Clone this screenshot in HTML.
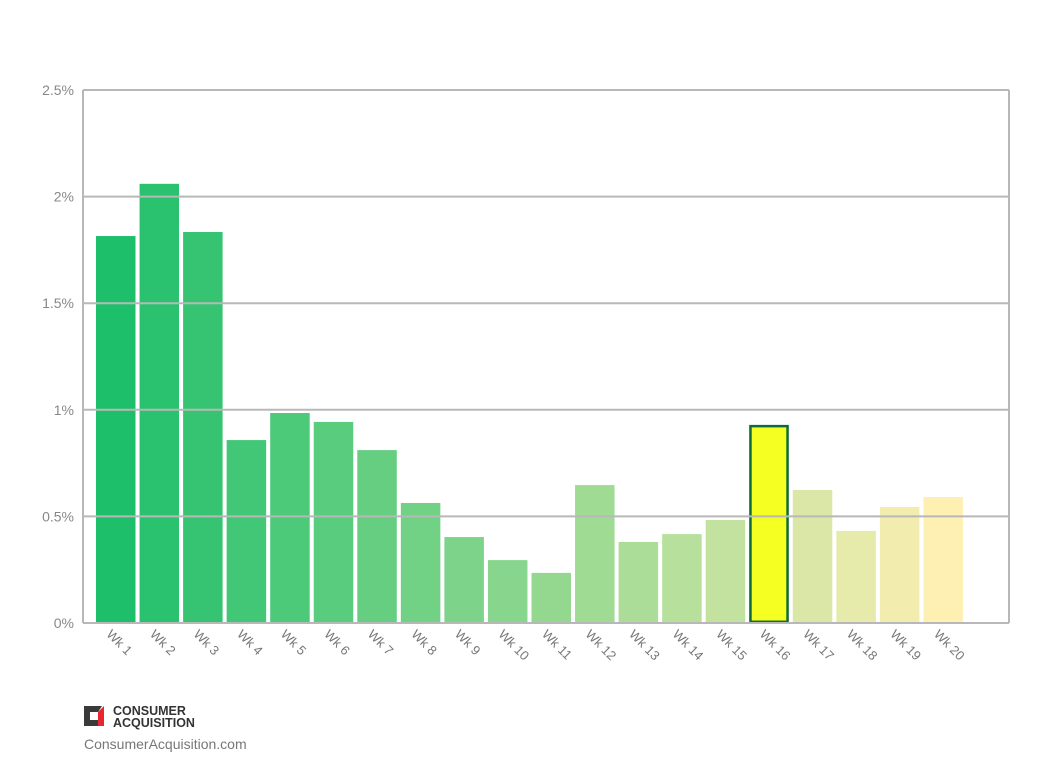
<!DOCTYPE html>
<html><head><meta charset="utf-8"><style>
body{margin:0;background:#fff;font-family:"Liberation Sans",sans-serif}
</style></head><body>
<svg id="chart" width="1044" height="764" xmlns="http://www.w3.org/2000/svg">
<g id="bars"></g>
<g id="grid"></g>
<g id="ylab"></g>
<g id="xlab"></g>
<g>
<path d="M84 706 h18 l-4 6 h-8 v8 h8 l4 6 h-18 z" fill="#3a3a3a"/>
<path d="M98 712 l6 -6 v20 h-6 z" fill="#e8262d"/>
<text x="113" y="715" font-size="12.5" font-weight="bold" fill="#333">CONSUMER</text>
<text x="113" y="727" font-size="12.5" font-weight="bold" fill="#333">ACQUISITION</text>
<text x="84" y="749" font-size="14" fill="#777">ConsumerAcquisition.com</text>
</g>
</svg>
<script>
const categories=["Wk 1","Wk 2","Wk 3","Wk 4","Wk 5","Wk 6","Wk 7","Wk 8","Wk 9","Wk 10","Wk 11","Wk 12","Wk 13","Wk 14","Wk 15","Wk 16","Wk 17","Wk 18","Wk 19","Wk 20"];
const values=[1.815,2.06,1.834,0.858,0.985,0.943,0.811,0.563,0.403,0.295,0.235,0.647,0.38,0.417,0.483,0.929,0.624,0.432,0.544,0.591];
const yTicks=[0,0.5,1,1.5,2,2.5];
const yTickLabels=["0%","0.5%","1%","1.5%","2%","2.5%"];
const highlight=15;
const NS="http://www.w3.org/2000/svg";
const X0=83,X1=1009,Y0=623,Y1=90,YMAX=2.5,START=96,STEP=43.55,BW=39.5;
const y=v=>Y0-(v/YMAX)*(Y0-Y1);
const x=i=>START+i*STEP;
function mk(t,a){const e=document.createElementNS(NS,t);for(const k in a)e.setAttribute(k,a[k]);return e;}
const c0=[30,191,107],c1=[254,239,178];
const bars=document.getElementById('bars');
values.forEach((v,i)=>{
 const f=i/(values.length-1);
 const col=`rgb(${c0.map((c,j)=>Math.round(c+(c1[j]-c)*f)).join(',')})`;
 const r=mk('rect',{x:x(i),y:y(v),width:BW,height:Y0-y(v),fill:i===highlight?'#f5ff22':col});
 if(i===highlight){r.setAttribute('stroke','#0d6b35');r.setAttribute('stroke-width','2.5');r.setAttribute('x',x(i)+1.2);r.setAttribute('width',BW-2.4);r.setAttribute('y',y(v)+1.2);r.setAttribute('height',Y0-y(v)-2.4);}
 
 
 bars.appendChild(r);
 const t=mk('text',{x:0,y:0,'font-size':13,fill:'#777',transform:`translate(${x(i)+BW/2-10},${Y0+12}) rotate(45)`});
 t.textContent=categories[i];
 
 
 document.getElementById('xlab').appendChild(t);
});
const g=document.getElementById('grid');
yTicks.forEach((v,i)=>{
 const l=mk('line',{x1:X0,x2:X1,y1:y(v),y2:y(v),stroke:'#b8b8b8','stroke-width':2});
 
 
 g.appendChild(l);
 const t=mk('text',{x:74,y:y(v)+5,'font-size':14,fill:'#888','text-anchor':'end'});
 t.textContent=yTickLabels[i];
 
 
 document.getElementById('ylab').appendChild(t);
});
[[X0,X0],[X1,X1]].forEach(p=>{
 const l=mk('line',{x1:p[0],x2:p[1],y1:Y1,y2:Y0,stroke:'#b8b8b8','stroke-width':2});
 
 
 g.appendChild(l);
});
</script>
</body></html>
